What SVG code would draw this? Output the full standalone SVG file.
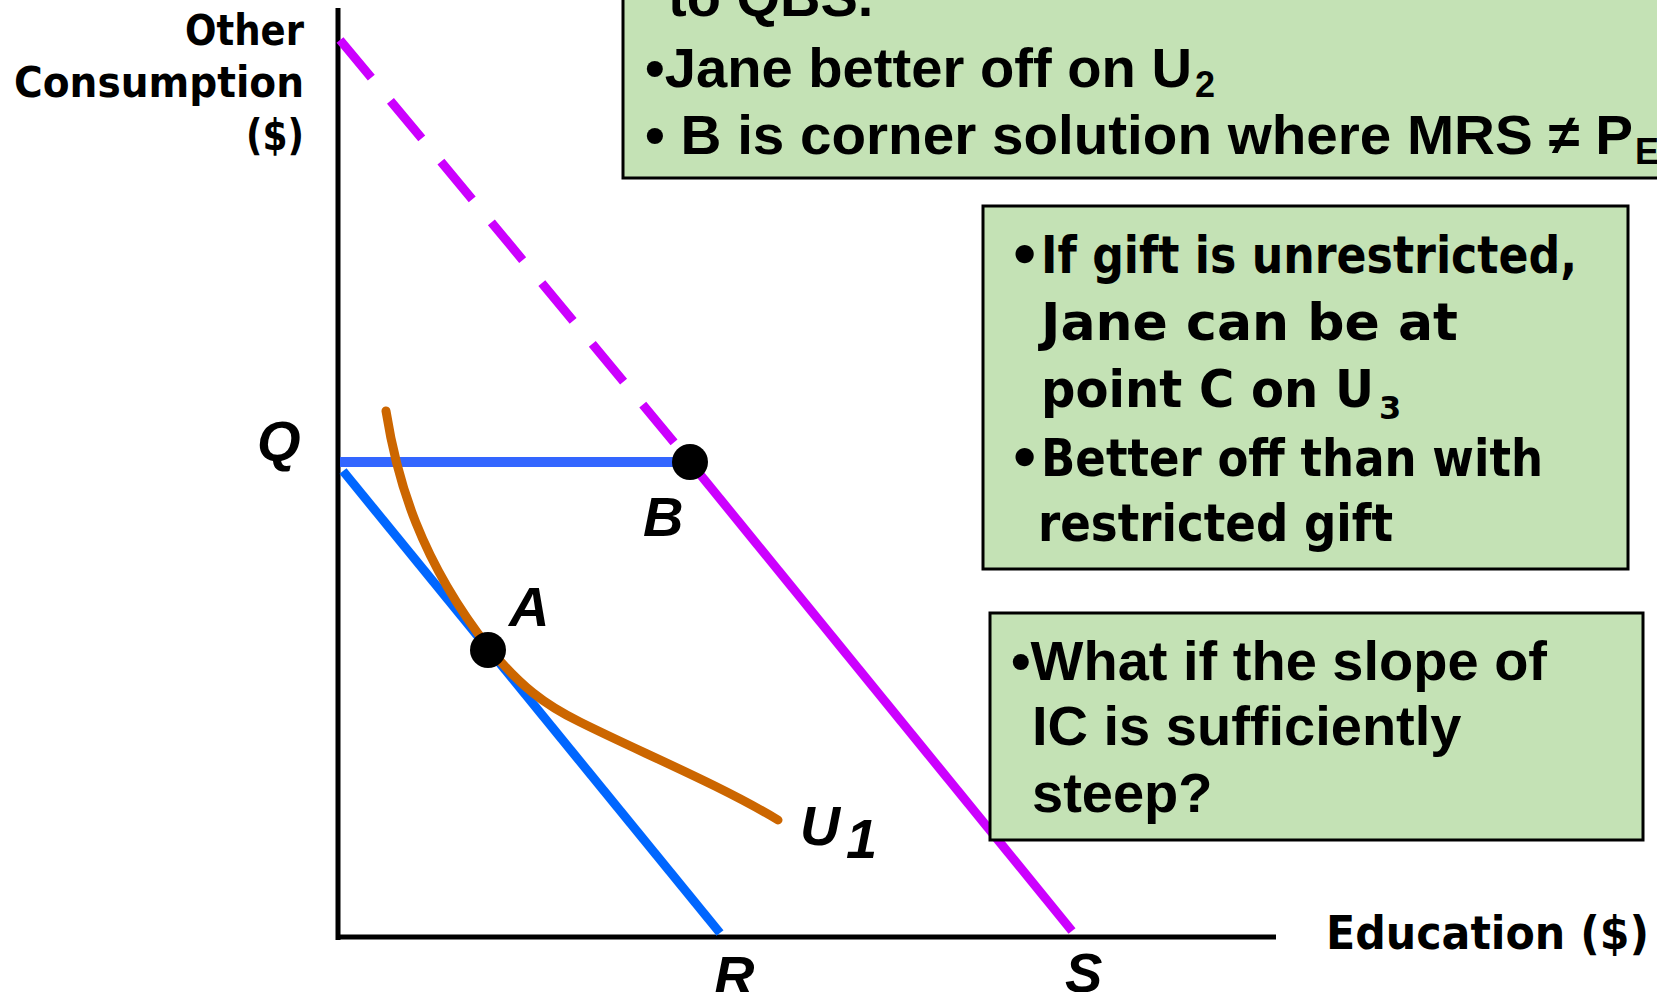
<svg xmlns="http://www.w3.org/2000/svg" width="1657" height="992" viewBox="0 0 1657 992">
<style>
.ax{stroke:#000;stroke-width:5;fill:none}
.box{fill:#C4E2B5;stroke:#000;stroke-width:3}
.arial{font-family:"Liberation Sans",Arial,sans-serif;font-weight:bold;font-size:56px;fill:#000}
.sub{font-family:"Liberation Sans",Arial,sans-serif;font-weight:bold;font-size:36px;fill:#000}
.goth{font-family:"DejaVu Sans","Liberation Sans",sans-serif;font-weight:bold;fill:#000}
.lbl{font-family:"Liberation Sans",Arial,sans-serif;font-weight:bold;font-style:italic;font-size:56px;fill:#000}
.dot{fill:#000}
</style>
<rect width="1657" height="992" fill="#fff"/>
<g id="axes">
<line class="ax" x1="338" y1="8" x2="338" y2="940"/>
<line class="ax" x1="336" y1="937" x2="1276" y2="937"/>
<text class="goth" font-size="42" x="304" y="45" text-anchor="end" textLength="119" lengthAdjust="spacingAndGlyphs">Other</text>
<text class="goth" font-size="42" x="304" y="97" text-anchor="end" textLength="290" lengthAdjust="spacingAndGlyphs">Consumption</text>
<text class="goth" font-size="42" x="304" y="150" text-anchor="end" textLength="58" lengthAdjust="spacingAndGlyphs">($)</text>
<text class="goth" font-size="46" x="1326" y="949" textLength="323" lengthAdjust="spacingAndGlyphs">Education ($)</text>
</g>
<g id="connectors">
<line x1="340" y1="40" x2="682" y2="452" stroke="#CC00FF" stroke-width="9" stroke-dasharray="49 30"/>
<line x1="690" y1="462" x2="1072" y2="931" stroke="#CC00FF" stroke-width="9"/>
<line x1="340" y1="462" x2="690" y2="462" stroke="#3366FF" stroke-width="10"/>
<line x1="343" y1="471" x2="720" y2="933" stroke="#0066FF" stroke-width="9"/>
<path d="M386,411 C397,480 420,560 489,648 C520,686 545,705 580,722 C640,752 720,785 778,820" fill="none" stroke="#CC6600" stroke-width="9" stroke-linecap="round"/>
</g>
<g id="point-B">
<circle class="dot" cx="690" cy="462" r="18"/>
<text class="lbl" x="643" y="536">B</text>
</g>
<g id="point-A">
<circle class="dot" cx="488" cy="650" r="18"/>
<text class="lbl" x="509" y="626">A</text>
</g>
<g id="labels">
<text class="lbl" x="257" y="460">Q</text>
<text class="lbl" x="714" y="995">R</text>
<text class="lbl" x="1065" y="992">S</text>
<text class="lbl" x="800" y="845" font-size="62" textLength="40" lengthAdjust="spacingAndGlyphs">U</text>
<text class="lbl" x="846" y="858" font-size="40">1</text>
</g>
<g id="box-top">
<rect class="box" x="623" y="-5" width="1100" height="183"/>
<text class="arial" x="668" y="16">to QBS.</text>
<text class="arial" x="645" y="87" textLength="547" lengthAdjust="spacingAndGlyphs">•Jane better off on U</text>
<text class="sub" x="1195" y="97">2</text>
<text class="arial" x="645" y="154" textLength="988" lengthAdjust="spacingAndGlyphs">• B is corner solution where MRS ≠ P</text>
<text class="sub" x="1635" y="164">E</text>
</g>
<g id="box-unrestricted">
<rect class="box" x="983" y="206" width="645" height="363"/>
<text class="goth" font-size="52" x="1008" y="273">•</text>
<text class="goth" font-size="52" x="1041" y="273" textLength="536" lengthAdjust="spacingAndGlyphs">If gift is unrestricted,</text>
<text class="goth" font-size="52" x="1041" y="340" textLength="417" lengthAdjust="spacingAndGlyphs">Jane can be at</text>
<text class="goth" font-size="52" x="1041" y="407" textLength="333" lengthAdjust="spacingAndGlyphs">point C on U</text>
<text class="goth" font-size="32" x="1379" y="419">3</text>
<text class="goth" font-size="52" x="1008" y="476">•</text>
<text class="goth" font-size="52" x="1041" y="476" textLength="502" lengthAdjust="spacingAndGlyphs">Better off than with</text>
<text class="goth" font-size="52" x="1038" y="541" textLength="355" lengthAdjust="spacingAndGlyphs">restricted gift</text>
</g>
<g id="box-steep">
<rect class="box" x="990" y="613" width="653" height="227"/>
<text class="arial" x="1011" y="680">•What if the slope of</text>
<text class="arial" x="1032" y="745">IC is sufficiently</text>
<text class="arial" x="1032" y="812">steep?</text>
</g>
</svg>
